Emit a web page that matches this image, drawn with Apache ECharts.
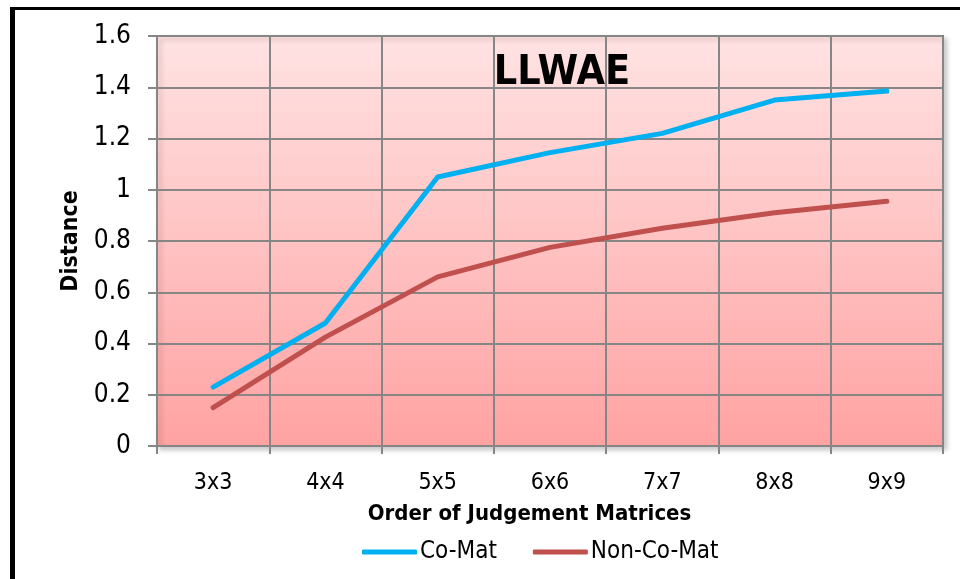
<!DOCTYPE html>
<html>
<head>
<meta charset="utf-8">
<title>LLWAE</title>
<script src="https://cdn.jsdelivr.net/npm/echarts@6/dist/echarts.min.js"></script>
<style>
  html, body { margin: 0; padding: 0; background: #fff; }
  #chart { width: 960px; height: 579px; }
</style>
</head>
<body>
<div id="chart"></div>
<script>
// Matrix orders on the category axis
const categories = ['3x3', '4x4', '5x5', '6x6', '7x7', '8x8', '9x9'];
// Distance for co-matrices
const coMat = [0.23, 0.48, 1.05, 1.145, 1.22, 1.35, 1.385];
// Distance for non-co-matrices
const nonCoMat = [0.15, 0.425, 0.66, 0.775, 0.85, 0.91, 0.955];
// Value axis ticks
const yMin = 0, yMax = 1.6, yStep = 0.2;

const FONT = "'Liberation Sans Narrow', 'DejaVu Sans Condensed', 'Liberation Sans', sans-serif";

const chart = echarts.init(document.getElementById('chart'), null, { renderer: 'canvas' });

chart.setOption({
  animation: false,
  backgroundColor: '#ffffff',
  title: {
    text: 'LLWAE',
    left: 557,
    top: 48,
    textAlign: 'center',
    textStyle: { fontFamily: FONT, fontWeight: 'bold', fontSize: 41, color: '#000' }
  },
  graphic: [
    { type: 'rect', shape: { x: 10, y: 7, width: 5, height: 572 }, style: { fill: '#000' }, z: 100 },
    { type: 'rect', shape: { x: 10, y: 7, width: 950, height: 3 }, style: { fill: '#000' }, z: 100 }
  ],
  legend: {
    left: 357,
    top: 535,
    itemWidth: 55,
    itemHeight: 5,
    itemGap: 36,
    textStyle: { fontFamily: FONT, fontSize: 24, color: '#000', padding: [0, 0, 0, -2] },
    data: [
      { name: 'Co-Mat', icon: 'roundRect' },
      { name: 'Non-Co-Mat', icon: 'roundRect' }
    ]
  },
  grid: {
    left: 157,
    top: 36,
    right: 17,
    bottom: 133,
    show: true,
    borderColor: '#C0504D',
    borderWidth: 2,
    backgroundColor: {
      type: 'linear', x: 0, y: 0, x2: 0, y2: 1,
      colorStops: [
        { offset: 0, color: '#FFE3E3' },
        { offset: 1, color: '#FFA2A2' }
      ]
    },
    shadowColor: 'rgba(0,0,0,0.2)',
    shadowBlur: 5,
    shadowOffsetX: 3,
    shadowOffsetY: 3
  },
  xAxis: {
    type: 'category',
    data: categories,
    boundaryGap: true,
    name: 'Order of Judgement Matrices',
    nameLocation: 'middle',
    nameGap: 57,
    nameTextStyle: { fontFamily: FONT, fontWeight: 'bold', fontSize: 22, color: '#000', padding: [0, 41, 0, 0] },
    axisLine: { show: true, lineStyle: { color: '#868686', width: 2 } },
    axisTick: { show: true, length: 8, alignWithLabel: false, lineStyle: { color: '#868686', width: 2 } },
    axisLabel: { fontFamily: FONT, fontSize: 23, color: '#000', margin: 26 },
    splitLine: { show: true, lineStyle: { color: '#868686', width: 2 } }
  },
  yAxis: {
    type: 'value',
    min: yMin,
    max: yMax,
    interval: yStep,
    name: 'Distance',
    nameLocation: 'middle',
    nameGap: 68,
    nameRotate: 90,
    nameTextStyle: { fontFamily: FONT, fontWeight: 'bold', fontSize: 23, color: '#000' },
    axisLine: { show: true, lineStyle: { color: '#868686', width: 2 } },
    axisTick: { show: true, length: 9, lineStyle: { color: '#868686', width: 2 } },
    axisLabel: {
      fontFamily: FONT, fontSize: 26, color: '#000', margin: 26,
      formatter: v => String(Math.round(v * 10) / 10)
    },
    splitLine: { show: true, lineStyle: { color: '#868686', width: 2 } }
  },
  series: [
    {
      name: 'Co-Mat',
      type: 'line',
      data: coMat,
      symbol: 'none',
      lineStyle: { color: '#00B0F0', width: 5, cap: 'round', join: 'round' },
      itemStyle: { color: '#00B0F0' },
      z: 3
    },
    {
      name: 'Non-Co-Mat',
      type: 'line',
      data: nonCoMat,
      symbol: 'none',
      lineStyle: { color: '#C0504D', width: 5, cap: 'round', join: 'round' },
      itemStyle: { color: '#C0504D' },
      z: 2
    }
  ]
});
</script>
</body>
</html>
